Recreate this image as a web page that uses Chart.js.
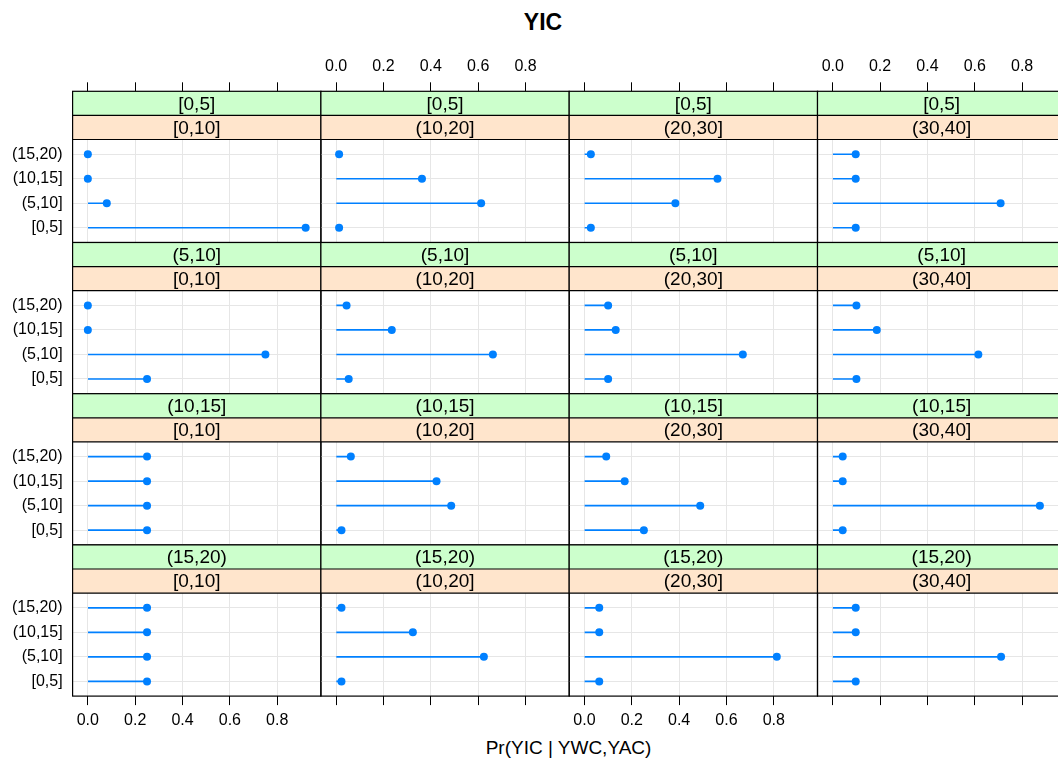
<!DOCTYPE html>
<html>
<head>
<meta charset="utf-8">
<script src="https://cdn.jsdelivr.net/npm/chart.js@4.4.1/dist/chart.umd.min.js"></script>
<style>
  html, body { margin: 0; padding: 0; background: #fff; overflow: hidden; }
  #wrap { position: relative; width: 1058px; height: 764px; overflow: hidden; font-family: "Liberation Sans", Arial, sans-serif; color: #000; }
  #wrap canvas { position: absolute; left: 0; top: 0; }
  .title { position: absolute; left: 0; top: 11px; width: 1086px; text-align: center; font-weight: bold; font-size: 23px; line-height: 1; }
  .xlab { position: absolute; left: 0; top: 738px; width: 1137px; text-align: center; font-size: 19px; line-height: 1; }
</style>
</head>
<body>
<div id="wrap">
  <div class="title">YIC</div>
  <div class="xlab">Pr(YIC | YWC,YAC)</div>
</div>
<script>
// categories on the y axis (YIC), bottom to top
const yicLevels = ['[0,5]', '(5,10]', '(10,15]', '(15,20)'];
// strip levels: green = YWC (rows), orange = YAC (columns)
const ywcLevels = ['[0,5]', '(5,10]', '(10,15]', '(15,20)'];
const yacLevels = ['[0,10]', '(10,20]', '(20,30]', '(30,40]'];
const xTicks = [0, 0.2, 0.4, 0.6, 0.8];

// Pr(YIC | YWC, YAC), one array per YAC level, values in yicLevels order
const prYwc1 = [
    [0.92, 0.08, 0, 0],
    [0.0125, 0.6125, 0.3625, 0.0125],
    [0.027, 0.384, 0.562, 0.027],
    [0.097, 0.709, 0.097, 0.097]
];
const prYwc2 = [
    [0.25, 0.75, 0, 0],
    [0.053, 0.662, 0.235, 0.044],
    [0.1, 0.669, 0.132, 0.1],
    [0.1, 0.615, 0.186, 0.1]
];
const prYwc3 = [
    [0.25, 0.25, 0.25, 0.25],
    [0.0225, 0.486, 0.424, 0.062],
    [0.251, 0.489, 0.17, 0.092],
    [0.042, 0.875, 0.042, 0.042]
];
const prYwc4 = [
    [0.25, 0.25, 0.25, 0.25],
    [0.0225, 0.624, 0.324, 0.0225],
    [0.0625, 0.8125, 0.0625, 0.0625],
    [0.097, 0.711, 0.097, 0.097]
];
const prRows = [prYwc1, prYwc2, prYwc3, prYwc4];

// layout of the lattice
const panelLeft0 = 72.6, colW = 248.3;
const stripTop0 = 91.3, rowH = 151.2, stripH = 24.1;
const panelH = rowH - 2 * stripH;
const xMin = -0.0644, xMax = 0.9844;
const yMin = 0.4, yPanelTop = 4.6;
const yMax = yPanelTop + 2 * stripH / (panelH / (yPanelTop - yMin));
const canvasW = 1100, canvasH = 764;
const topAxisH = 33, bottomAxisH = 40;

Chart.defaults.font.family = '"Liberation Sans", Arial, sans-serif';
Chart.defaults.color = '#000';

const stripPlugin = {
    id: 'strips',
    beforeDatasetsDraw(chart, args, opts) {
        const { ctx, chartArea } = chart;
        const yTop = chart.scales.y.getPixelForValue(yPanelTop);
        const h = (yTop - chartArea.top) / 2;
        const w = chartArea.right - chartArea.left;
        ctx.save();
        ctx.fillStyle = '#CCFFCC';
        ctx.fillRect(chartArea.left, chartArea.top, w, h);
        ctx.fillStyle = '#FFE5CC';
        ctx.fillRect(chartArea.left, chartArea.top + h, w, h);
        ctx.fillStyle = '#000';
        ctx.font = '19px "Liberation Sans", Arial, sans-serif';
        ctx.textAlign = 'center';
        ctx.textBaseline = 'middle';
        const cx = (chartArea.left + chartArea.right) / 2;
        ctx.fillText(opts.top, cx, chartArea.top + h / 2 + 1);
        ctx.fillText(opts.bottom, cx, chartArea.top + h * 1.5 + 1);
        ctx.restore();
    },
    afterDatasetsDraw(chart) {
        const { ctx, chartArea } = chart;
        const yTop = chart.scales.y.getPixelForValue(yPanelTop);
        const h = (yTop - chartArea.top) / 2;
        ctx.save();
        ctx.strokeStyle = '#000';
        ctx.lineWidth = 1.2;
        ctx.strokeRect(chartArea.left, chartArea.top, chartArea.right - chartArea.left, chartArea.bottom - chartArea.top);
        ctx.beginPath();
        ctx.moveTo(chartArea.left, chartArea.top + h);
        ctx.lineTo(chartArea.right, chartArea.top + h);
        ctx.moveTo(chartArea.left, yTop);
        ctx.lineTo(chartArea.right, yTop);
        ctx.stroke();
        ctx.restore();
    }
};

const wrap = document.getElementById('wrap');

function makePanel(r, c) {
    const vals = prRows[r][c];
    const left = panelLeft0 + c * colW;
    const right = left + colW;
    const top = stripTop0 + r * rowH;
    const bottom = top + rowH;
    const hasTop = r === 0, hasBottom = r === 3;
    const hasAxis = hasTop || hasBottom;
    const showXLabels = (hasTop && c % 2 === 1) || (hasBottom && c % 2 === 0);

    const canvas = document.createElement('canvas');
    canvas.width = canvasW;
    canvas.height = canvasH;
    wrap.appendChild(canvas);

    new Chart(canvas.getContext('2d'), {
        type: 'scatter',
        data: {
            datasets: [{
                type: 'bar',
                indexAxis: 'y',
                data: vals.map((v, i) => ({ x: [0, v], y: i + 1 })),
                backgroundColor: '#0080ff',
                borderWidth: 0,
                barThickness: 1
            }, {
                type: 'scatter',
                data: vals.map((v, i) => ({ x: v, y: i + 1 })),
                backgroundColor: '#0080ff',
                borderWidth: 0,
                pointRadius: 4
            }]
        },
        options: {
            responsive: false,
            animation: false,
            events: [],
            layout: {
                padding: {
                    left: c === 0 ? 0 : left,
                    right: canvasW - right,
                    top: hasTop ? top - topAxisH : top,
                    bottom: hasBottom ? canvasH - bottom - bottomAxisH : canvasH - bottom
                }
            },
            plugins: {
                legend: { display: false },
                tooltip: { enabled: false },
                strips: { top: ywcLevels[r], bottom: yacLevels[c] }
            },
            scales: {
                x: {
                    type: 'linear',
                    position: hasTop ? 'top' : 'bottom',
                    min: xMin,
                    max: xMax,
                    offset: false,
                    afterBuildTicks: s => { s.ticks = xTicks.map(v => ({ value: v })); },
                    afterFit: s => { s.height = hasTop ? topAxisH : (hasBottom ? bottomAxisH : 0); },
                    border: { display: false },
                    grid: { offset: false, color: '#e6e6e6', tickColor: '#000', tickLength: 9, drawTicks: hasAxis },
                    ticks: {
                        display: showXLabels,
                        maxRotation: 0,
                        autoSkip: false,
                        padding: 6,
                        font: { size: 16 },
                        callback: v => v.toFixed(1)
                    }
                },
                y: {
                    type: 'linear',
                    min: yMin,
                    max: yMax,
                    offset: false,
                    afterBuildTicks: s => { s.ticks = yicLevels.map((l, i) => ({ value: i + 1 })); },
                    afterFit: s => { s.width = c === 0 ? left : 0; },
                    border: { display: false },
                    grid: { offset: false, color: '#e6e6e6', drawTicks: false },
                    ticks: {
                        display: c === 0,
                        padding: 10,
                        font: { size: 16 },
                        callback: v => yicLevels[v - 1]
                    }
                }
            }
        },
        plugins: [stripPlugin]
    });
}

for (let r = 0; r < 4; r++) {
    for (let c = 0; c < 4; c++) {
        makePanel(r, c);
    }
}
</script>
</body>
</html>
